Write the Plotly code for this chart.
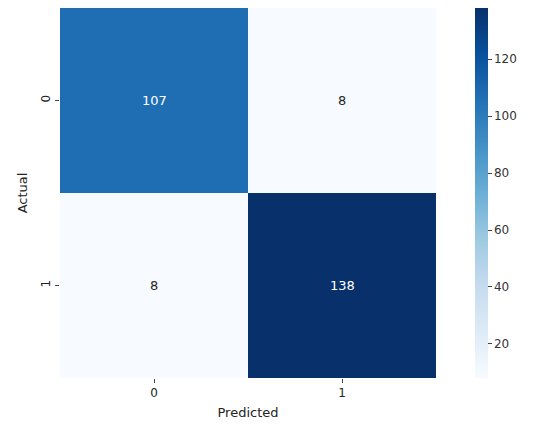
import plotly.graph_objects as go

labels = ["0", "1"]
matrix = [[107, 8],
          [8, 138]]

blues = [[0.0, "#f7fbff"], [0.125, "#deebf7"], [0.25, "#c6dbef"], [0.375, "#9ecae1"],
         [0.5, "#6baed6"], [0.625, "#4292c6"], [0.75, "#2171b5"], [0.875, "#08519c"],
         [1.0, "#08306b"]]

vmin = min(min(r) for r in matrix)
vmax = max(max(r) for r in matrix)

fig = go.Figure(go.Heatmap(
    z=matrix, x=labels, y=labels, colorscale=blues, zmin=vmin, zmax=vmax,
    colorbar=dict(thickness=13, x=1.104, xanchor="left", len=1, lenmode="fraction",
                  y=0.5, yanchor="middle", outlinewidth=0, ypad=0, xpad=0,
                  tickvals=[20, 40, 60, 80, 100, 120], ticks="outside", ticklen=4,
                  tickfont=dict(size=12, color="#333")),
))

for i, row in enumerate(matrix):
    for j, v in enumerate(row):
        col = "white" if (v - vmin) / (vmax - vmin) > 0.5 else "#262626"
        fig.add_annotation(x=labels[j], y=labels[i], text=str(v), showarrow=False,
                           font=dict(size=13, color=col))

fig.update_layout(
    width=539, height=432,
    margin=dict(l=52, r=111, t=0, b=62, pad=0),
    plot_bgcolor="white", paper_bgcolor="white",
    font=dict(family="DejaVu Sans", size=12, color="#222"),
    xaxis=dict(title=dict(text="Predicted", standoff=8, font=dict(size=13)), ticks="outside",
               ticklen=4, showgrid=False, zeroline=False, automargin=False),
    yaxis=dict(title=dict(text="Actual", standoff=8, font=dict(size=13)), autorange="reversed",
               tickangle=-90, ticks="outside", ticklen=4, showgrid=False, zeroline=False,
               automargin=False),
)

fig.write_html("out.html")
